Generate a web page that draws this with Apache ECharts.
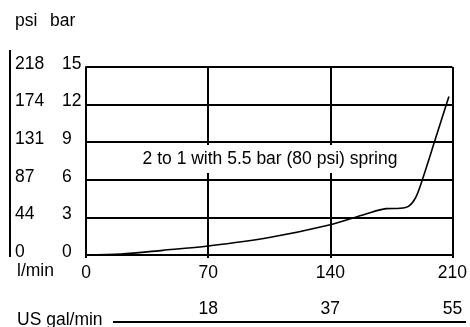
<!DOCTYPE html>
<html>
<head>
<meta charset="utf-8">
<script src="https://cdn.jsdelivr.net/npm/echarts@6/dist/echarts.min.js"></script>
<style>html,body{margin:0;padding:0;background:#fff}#c{width:470px;height:327px}</style>
</head>
<body>
<div id="c"></div>
<script>
// Data
var flowLpm = [0, 20, 44, 70, 105, 140, 160, 172, 180, 185, 189, 193, 200, 208];
var pressureBar = [0, 0.07, 0.37, 0.72, 1.4, 2.42, 3.25, 3.7, 3.73, 3.9, 4.6, 6.1, 9.15, 12.65];
var psiLabels = ['0', '44', '87', '131', '174', '218'];
var galLabels = ['', '18', '37', '55'];
var annotation = '2 to 1 with 5.5 bar (80 psi) spring';

var FONT = '"Liberation Sans", Arial, sans-serif';
var FS = 17.5;
var chart = echarts.init(document.getElementById('c'));
var seriesData = flowLpm.map(function (x, i) { return [x, pressureBar[i]]; });

chart.setOption({
  animation: false,
  backgroundColor: '#fff',
  textStyle: { fontFamily: FONT, color: '#000' },
  grid: { left: 86, right: 4, top: 67, bottom: 72, containLabel: false },
  xAxis: [{
    type: 'value', min: 0, max: 210, interval: 70,
    axisLine: { show: true, lineStyle: { color: '#000', width: 2 } },
    axisTick: { show: true, length: 3, lineStyle: { color: '#000', width: 2 } },
    splitLine: { show: true, lineStyle: { color: '#000', width: 2 } },
    axisLabel: { color: '#000', fontSize: FS, fontFamily: FONT, margin: 9 }
  }, {
    type: 'value', min: 0, max: 210, interval: 70, position: 'bottom', offset: 67,
    axisLine: { show: false },
    axisTick: { show: true, inside: true, length: 3, lineStyle: { color: '#000', width: 1 } },
    splitLine: { show: false },
    axisLabel: { inside: true, color: '#000', fontSize: FS, fontFamily: FONT, margin: 4,
      formatter: function (v) { return galLabels[Math.round(v / 70)]; } }
  }],
  yAxis: [{
    type: 'value', min: 0, max: 15, interval: 3, position: 'left',
    axisLine: { show: true, lineStyle: { color: '#000', width: 2 } },
    axisTick: { show: false },
    splitLine: { show: true, lineStyle: { color: '#000', width: 2 } },
    axisLabel: { color: '#000', fontSize: FS, fontFamily: FONT, margin: 24, align: 'left',
      verticalAlign: 'bottom', lineHeight: 6 }
  }, {
    type: 'value', min: 0, max: 15, interval: 3, position: 'left', offset: 76,
    axisLine: { show: false },
    axisTick: { show: true, inside: true, length: 2, lineStyle: { color: '#000', width: 2 } },
    splitLine: { show: false },
    axisLabel: { inside: true, color: '#000', fontSize: FS, fontFamily: FONT, margin: 5, align: 'left',
      verticalAlign: 'bottom', lineHeight: 6,
      formatter: function (v) { return psiLabels[Math.round(v / 3)]; } }
  }],
  series: [{
    type: 'line', xAxisIndex: 0, yAxisIndex: 0, data: seriesData, smooth: 0.3,
    showSymbol: false, lineStyle: { color: '#000', width: 1.6 }, z: 3
  }],
  graphic: [
    { type: 'line', shape: { x1: 10, y1: 50, x2: 10, y2: 257 }, style: { stroke: '#000', lineWidth: 2 } },
    { type: 'line', shape: { x1: 113, y1: 322, x2: 466, y2: 322 }, style: { stroke: '#000', lineWidth: 2 } },
    { type: 'text', left: 15, top: 12, style: { text: 'psi', font: FS + 'px ' + FONT, fill: '#000' } },
    { type: 'text', left: 50, top: 12, style: { text: 'bar', font: FS + 'px ' + FONT, fill: '#000' } },
    { type: 'text', left: 17, top: 262, style: { text: 'l/min', font: FS + 'px ' + FONT, fill: '#000' } },
    { type: 'text', left: 17, top: 311, style: { text: 'US gal/min', font: FS + 'px ' + FONT, fill: '#000' } },
    { type: 'text', z: 10, x: 270, y: 159, style: { text: annotation, font: FS + 'px ' + FONT, fill: '#000',
      align: 'center', verticalAlign: 'middle', backgroundColor: '#fff', padding: [5, 3] } }
  ]
});
</script>
</body>
</html>
